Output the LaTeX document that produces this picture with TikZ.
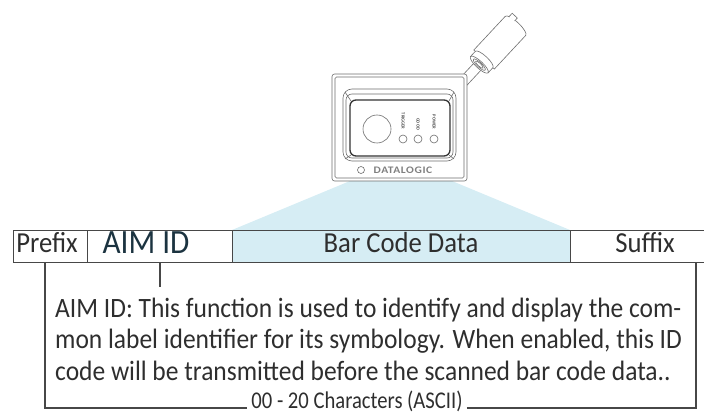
\documentclass[tikz,border=0pt]{standalone}
\usepackage{fontspec}
\setmainfont{Carlito}
\newfontfamily\bodyfont{Carlito}[FakeStretch=0.91]
\newfontfamily\headfont{Carlito}[FakeStretch=0.92]
\newfontfamily\footfont{Carlito}[FakeStretch=0.86]
\newfontfamily\logofont{Carlito}[LetterSpace=6, FakeStretch=1.15]
\definecolor{tableline}{HTML}{474747}
\definecolor{devline}{HTML}{6E6E6E}
\definecolor{beamblue}{HTML}{D6EDF4}
\definecolor{bodytext}{HTML}{2E2E2E}
\definecolor{aimtext}{HTML}{1B3340}
\tikzset{
  dev/.style={draw=devline, line width=0.6pt},
  cell/.style={draw=tableline, line width=1.2pt, minimum height=32pt, inner sep=0pt, anchor=north west},
  headlabel/.style={text=bodytext, font=\headfont\fontsize{29}{29}\selectfont, inner sep=0pt, anchor=base},
  bodyline/.style={text=bodytext, font=\bodyfont\fontsize{28}{31}\selectfont, inner sep=0pt, anchor=base west},
  ledlabel/.style={rotate=-90, text=black!70, font=\fontsize{4.5}{5}\selectfont\bfseries, inner sep=0pt},
  bracket/.style={draw=tableline, line width=1.1pt},
}
\begin{document}
\begin{tikzpicture}[x=1pt, y=-1pt]
\useasboundingbox (0,0) rectangle (704,414);
\begin{scope}
\clip (0,0) rectangle (704,414);

% light beam from the scanner window down to the data field
\fill[beamblue] (350,181) -- (452,181) -- (570,230) -- (232,230) -- cycle;

% cable and connector
\begin{scope}[shift={(465,80)}, rotate=47]
  \draw[dev] (-12,-5) -- (24,-5);
  \draw[dev] (-12,5) -- (24,5);
  \draw[dev, fill=white] (28,-14) -- (74,-14)
      arc[start angle=-90, end angle=90, x radius=4, y radius=14] -- (28,14) -- cycle;
  \draw[dev, fill=white] (76,-11) -- (81,-11) -- (81,-4) -- (77,-4);
  \draw[dev, fill=white] (21,-12) -- (28,-12)
      arc[start angle=-90, end angle=90, x radius=3.5, y radius=12] -- (21,12) -- cycle;
  \draw[dev, fill=white] (21,0) ellipse[x radius=3.5, y radius=12];
  \draw[dev] (21,0) ellipse[x radius=2.3, y radius=8];
  \draw[dev] (21,0) ellipse[x radius=1.5, y radius=5];
\end{scope}

% scanner housing
\draw[dev, fill=white, rounded corners=2.5] (332,74) rectangle (467,181);
\draw[dev, rounded corners=1.5] (335,77) rectangle (464,178);
\draw[dev, rounded corners=9] (343,89) rectangle (456,161);
\draw[dev, rounded corners=6] (346,94) rectangle (453,158);
\draw[draw=black!80, line width=1.3pt, rounded corners=6] (350,100) rectangle (450,156);
\draw[dev] (345,92) -- (351,101);
\draw[dev] (454,92) -- (449,101);
\draw[dev] (345,159) -- (351,155);
\draw[dev] (454,159) -- (449,155);
\draw[dev] (377,129) circle[radius=14];
\draw[dev] (403,139) circle[radius=4];
\draw[dev] (418,139) circle[radius=4];
\draw[dev] (434,139) circle[radius=4];
\node[ledlabel] (trig) at (403,121) {TRIGGER};
\node[ledlabel] (good) at (418,124) {GOOD};
\node[ledlabel] (power) at (434,122) {POWER};
\draw[dev] (361,170) circle[radius=3.5];
\node[text=black!50, font=\logofont\fontsize{10}{10}\selectfont\bfseries, inner sep=0pt] (logo) at (403,170) {DATALOGIC};

% message format table
\node[cell, minimum width=74pt] (prefix) at (13,230) {};
\node[cell, minimum width=145pt] (aim) at (87,230) {};
\node[cell, minimum width=338pt, fill=beamblue] (data) at (232,230) {};
\node[cell, minimum width=150pt] (suffix) at (570,230) {};
\node[headlabel] (prefixtxt) at (47,252) {Prefix};
\node[headlabel, text=aimtext, font=\headfont\fontsize{34}{34}\selectfont] (aimtxt) at (146,253) {AIM ID};
\node[headlabel] (datatxt) at (401,252) {Bar Code Data};
\node[headlabel] (suffixtxt) at (645,252) {Suffix};

% description and bracket
\node[bodyline] (l1) at (55,317) {AIM ID: This function is used to identify and display the com-};
\node[bodyline] (l2) at (55,348) {mon label identifier for its symbology. When enabled, this ID};
\node[bodyline] (l3) at (55,380) {code will be transmitted before the scanned bar code data..};
\node[text=bodytext, font=\footfont\fontsize{24}{24}\selectfont, inner xsep=4pt, inner ysep=0pt] (chars) at (357,401) {00 - 20 Characters (ASCII)};

\coordinate (aimend) at (160,287);
\draw[bracket] (aim.south -| aimend) -- (aimend);
\coordinate (leftfoot) at (45,408);
\coordinate (rightfoot) at (696,408);
\draw[bracket] (prefix.south -| leftfoot) -- (leftfoot) -- (chars.west |- leftfoot);
\draw[bracket] (chars.east |- rightfoot) -- (rightfoot) -- (suffix.south -| rightfoot);
\end{scope}
\end{tikzpicture}
\end{document}
